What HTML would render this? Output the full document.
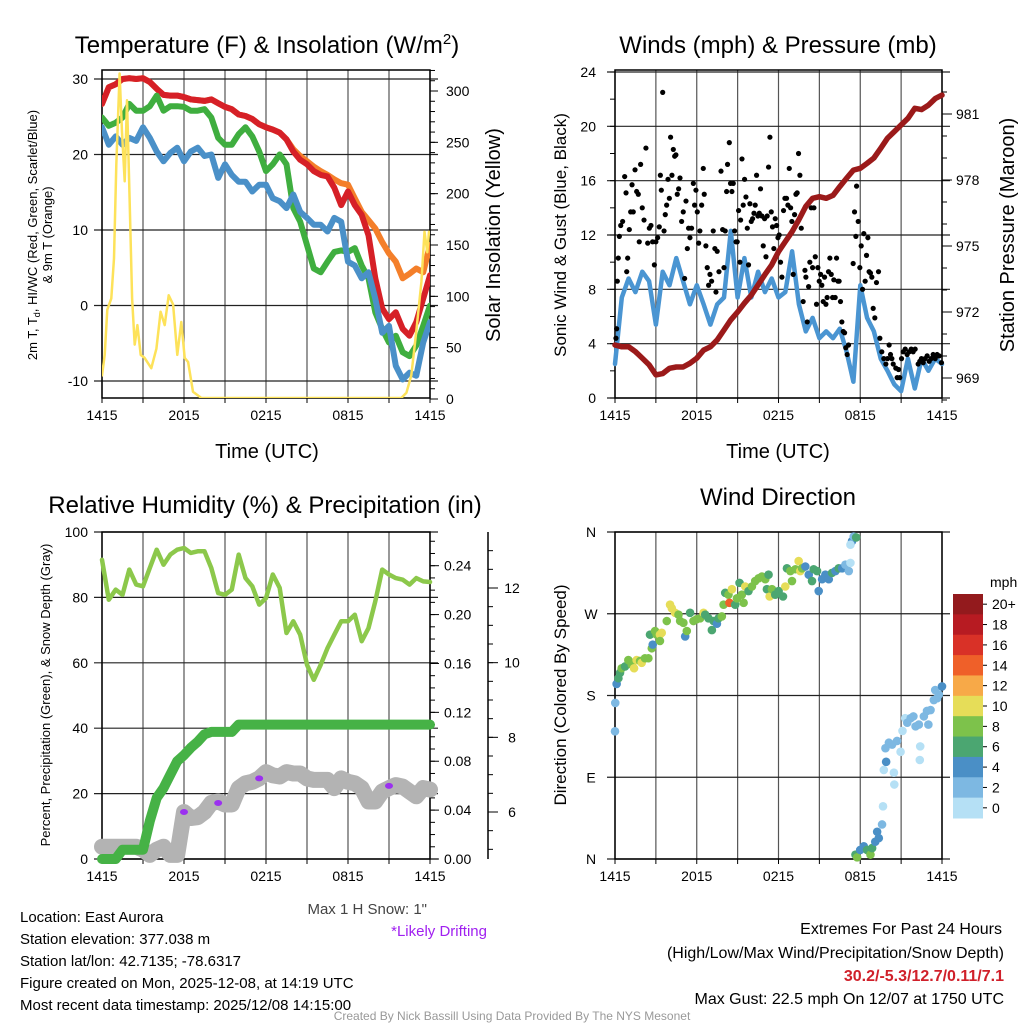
<!DOCTYPE html>
<html><head><meta charset="utf-8"><style>
body{margin:0;background:#fff;}
svg{display:block;font-family:"Liberation Sans",sans-serif;}
</style></head><body>
<svg id="s" width="1024" height="1024" viewBox="0 0 1024 1024">
<rect width="1024" height="1024" fill="#fff"/>
<text x="267" y="53" font-size="24" text-anchor="middle">Temperature (F) &amp; Insolation (W/m<tspan dy="-9" font-size="15">2</tspan><tspan dy="9">)</tspan></text>
<text x="778" y="53" font-size="24" text-anchor="middle">Winds (mph) &amp; Pressure (mb)</text>
<text x="265" y="513" font-size="24" text-anchor="middle">Relative Humidity (%) &amp; Precipitation (in)</text>
<text x="778" y="505" font-size="24" text-anchor="middle">Wind Direction</text>
<text x="267" y="458" font-size="20" text-anchor="middle">Time (UTC)</text>
<text x="778" y="458" font-size="20" text-anchor="middle">Time (UTC)</text>
<text transform="translate(37,235) rotate(-90)" font-size="13" text-anchor="middle">2m T, T<tspan dy="3" font-size="9">d</tspan><tspan dy="-3">, HI/WC (Red, Green, Scarlet/Blue)</tspan></text>
<text transform="translate(52,235) rotate(-90)" font-size="13" text-anchor="middle">&amp; 9m T (Orange)</text>
<text transform="translate(500,235) rotate(-90)" font-size="20" text-anchor="middle">Solar Insolation (Yellow)</text>
<text transform="translate(566,235) rotate(-90)" font-size="17" text-anchor="middle">Sonic Wind &amp; Gust (Blue, Black)</text>
<text transform="translate(1014,235) rotate(-90)" font-size="20" text-anchor="middle">Station Pressure (Maroon)</text>
<text transform="translate(50,695) rotate(-90)" font-size="13" text-anchor="middle">Percent, Precipitation (Green), &amp; Snow Depth (Gray)</text>
<text transform="translate(566,695) rotate(-90)" font-size="17" text-anchor="middle">Direction (Colored By Speed)</text>
<text x="427" y="914" font-size="15" fill="#444" text-anchor="end">Max 1 H Snow: 1"</text>
<text x="487" y="936" font-size="15" fill="#a020f0" text-anchor="end">*Likely Drifting</text>
<g font-size="15">
<text x="20" y="922">Location: East Aurora</text>
<text x="20" y="944">Station elevation: 377.038 m</text>
<text x="20" y="966">Station lat/lon: 42.7135; -78.6317</text>
<text x="20" y="988">Figure created on Mon, 2025-12-08, at 14:19 UTC</text>
<text x="20" y="1010">Most recent data timestamp: 2025/12/08 14:15:00</text>
</g>
<g font-size="16" text-anchor="end">
<text x="1002" y="934">Extremes For Past 24 Hours</text>
<text x="1004" y="958">(High/Low/Max Wind/Precipitation/Snow Depth)</text>
<text x="1004" y="981" fill="#d0202a" font-weight="bold">30.2/-5.3/12.7/0.11/7.1</text>
<text x="1004" y="1004">Max Gust: 22.5 mph On 12/07 at 1750 UTC</text>
</g>
<text x="512" y="1020" font-size="12" fill="#999" text-anchor="middle">Created By Nick Bassill Using Data Provided By The NYS Mesonet</text>
</svg>
<script>
// ---------- DATA ----------
const hours30 = [0,0.5,1,1.5,2,2.5,3,3.5,4,4.5,5,5.5,6,6.5,7,7.5,8,8.5,9,9.5,10,10.5,11,11.5,12,12.5,13,13.5,14,14.5,15,15.5,16,16.5,17,17.5,18,18.5,19,19.5,20,20.5,21,21.5,22,22.5,23,23.5,24];
const xTickLabels = ["1415","2015","0215","0815","1415"];
const tempRed = [26.7,28.9,29.3,30,30.1,30,30.1,29.6,28.7,27.9,27.8,27.8,27.6,27.3,27.2,27.1,27.3,26.8,26.3,26,25.3,25.1,24.7,24,23.6,23.3,22.9,22,20.4,19.3,18.7,17.8,17.3,17.1,15.6,13.3,15.1,13.3,12,9.3,3.6,-0.4,-1.8,-0.9,-3.1,-4,-2.2,0.9,4];
const tempOrange = [26.7,28.9,29.3,30,30.1,30,30.1,29.6,28.7,27.9,27.8,27.8,27.6,27.3,27.2,27.1,27.3,26.8,26.3,26,25.3,25.1,24.7,24,23.6,23.3,22.9,22,20.7,19.8,19.1,18.4,17.8,17.3,16.7,16.2,16,14.2,12.4,11.3,10.2,8.4,6.9,5.8,3.6,4.2,4.9,4.4,8];
const tempGreen = [24.9,23.8,24.2,24.9,26.7,25.8,25.8,26.4,27.8,25.8,26.4,26.4,26.3,25.8,25.8,26,24.9,22.2,21.3,21.3,22.7,23.6,22.4,20.4,17.8,18.7,20,18.7,12.9,11.1,8,4.9,4.4,5.8,7.1,7.3,7.1,7.6,5.3,3.6,-0.9,-3.1,-4.9,-4,-6.2,-6.7,-5.3,-2.7,0];
const tempBlue = [23.6,21.3,22.4,21.3,22.2,21.8,23.6,22.2,20.4,19.1,20.2,20.9,19.1,20.4,20.9,19.8,20,16.9,18.7,17.3,16.4,16.4,15.1,16,16,14.2,13.8,12.9,14.7,12.4,11.6,10.7,10.7,9.8,11.6,11.1,5.8,5.3,3.6,4.4,0.9,-3.6,-2.7,-8,-9.8,-8.9,-9.3,-4.9,-2.2];
const solarHours = [0,0.2,0.39,0.68,0.88,1.05,1.29,1.46,1.66,1.83,2.02,2.2,2.39,2.59,2.83,3.12,3.61,3.98,4.29,4.59,4.88,5.2,5.51,5.8,6.05,6.3,6.66,7.27,21.9,22.27,22.63,23,23.37,23.6,23.8,23.93];
const solarVals = [23,43,87,98,137,228,317,260,212,291,195,98,53,72,43,40,30,49,85,72,101,92,43,75,40,36,7,1,1,6,23,66,114,163,143,163];
const pressure = [970.5,970.42,970.42,970.2,969.9,969.6,969.14,969.2,969.44,969.5,969.5,969.67,969.9,970.27,970.42,970.73,971.18,971.64,972,972.4,972.77,973.23,973.7,974.14,974.74,975.2,975.65,976.2,976.8,977.17,977.24,977.17,977.3,977.7,978.08,978.45,978.53,978.76,979,979.44,979.9,980.2,980.5,980.8,981.26,981.2,981.4,981.7,981.86];
const windSpeed = [2.5,7.4,8.8,7.8,9.3,8.6,5.4,9.3,8.3,10.3,8.6,6.9,8.3,6.9,5.4,6.9,7.4,12.3,7.4,10.3,7.4,9.3,7.8,8.8,7.4,7.8,10.8,6.9,4.9,5.9,4.4,4.9,4.4,5.1,3.4,1.2,8.3,5.9,4.9,2.9,2,1,0.5,2.9,0.7,2.9,2,2.9,2.5];
const gustH = [0.07,0.12,0.17,0.24,0.32,0.42,0.56,0.71,0.81,0.86,0.93,1.05,1.15,1.25,1.34,1.47,1.59,1.71,1.78,1.88,2,2.13,2.27,2.4,2.52,2.64,2.76,2.89,3,3.13,3.25,3.33,3.4,3.5,3.6,3.69,3.79,3.89,3.99,4.08,4.18,4.28,4.38,4.47,4.57,4.67,4.77,4.89,5.01,5.11,5.21,5.31,5.4,5.5,5.62,5.75,5.84,5.94,6.04,6.14,6.23,6.36,6.48,6.55,6.67,6.77,6.87,6.97,7.09,7.21,7.33,7.41,7.5,7.63,7.78,7.9,8,8.09,8.19,8.26,8.39,8.48,8.58,8.68,8.78,8.88,8.97,9.07,9.17,9.22,9.32,9.41,9.51,9.61,9.71,9.8,9.9,10,10.1,10.2,10.29,10.39,10.49,10.59,10.68,10.78,10.88,10.98,11.08,11.17,11.27,11.37,11.47,11.56,11.66,11.76,11.86,11.96,12.05,12.15,12.25,12.37,12.47,12.59,12.69,12.79,12.89,12.98,13.08,13.18,13.28,13.37,13.47,13.57,13.67,13.81,13.94,14.01,14.11,14.21,14.3,14.4,14.5,14.6,14.7,14.79,14.89,14.99,15.09,15.18,15.28,15.38,15.48,15.57,15.67,15.77,15.87,15.97,16.06,16.16,16.26,16.36,16.45,16.55,16.65,16.75,16.85,16.94,17.04,17.14,17.48,17.58,17.68,17.73,17.85,17.97,18.07,18.17,18.26,18.36,18.46,18.56,18.65,18.75,18.85,18.95,19.07,19.19,19.34,19.44,19.58,19.73,19.88,20,20.12,20.22,20.32,20.42,20.61,20.71,20.81,20.9,21.03,21.15,21.3,21.44,21.59,21.74,21.88,22.03,22.25,22.37,22.49,22.62,22.76,22.91,23.06,23.2,23.35,23.5,23.64,23.79,23.96];
const gustV = [4.4,5.1,8.6,10.3,11.9,12.7,13,16.3,15.1,9.3,10.3,12.4,13.7,15.7,13.7,16.8,15.2,15,11.5,17.2,14,13.1,18.4,11.4,12.5,12.7,11.5,9.8,11.5,11.8,12.6,16.4,15.3,22.5,12.3,13.5,14.2,16.1,14.7,19.2,16.4,18.3,17.8,17.9,15,15.4,16.2,13,13.7,8.8,14.5,11,12.5,11.8,12.5,15.8,14.2,15.3,13.7,11.4,12.3,14.2,16.9,15,11.2,9.6,8.3,9.1,8.6,12.3,11,7.8,10.8,9.3,16.7,12.4,9.6,12.3,15.2,17.2,18.8,15.8,15.2,15.8,12.3,11.5,11.5,13.8,10,13.1,17.6,14.2,16.1,14.8,12.5,9.8,14.3,13,13.2,13.6,14.2,16.4,13.4,13.6,15.4,13.4,11.2,13.2,10.4,13.4,17,19.2,13.7,12.6,11,13.2,12.7,11.8,12,10,8.9,13.8,14.7,14.7,14.2,16.9,14,13,9.1,13.5,15,15.1,18,16.4,12.5,7.1,9.4,8.9,5.6,8.2,10,14,9.6,14,10.4,6.9,9.6,8.6,9.1,8.3,7.1,8.9,6.9,7.4,9.3,10.3,9.1,7.4,8.7,7.4,10.3,8.6,8.6,7.1,5.6,4.9,4.8,3.7,3.2,3.9,9.9,13.7,11.9,15.6,13,9.6,11.2,8,12.1,8.6,10.5,11.8,9.3,9.2,8.9,6.6,5.9,8.5,9.3,4.4,3.4,2.9,2.5,2.9,3.9,3.2,2.9,2.5,2.2,1.5,2.1,1.5,2.9,3.4,3.6,3.2,3.4,3.6,3.4,3.6,2.5,2.7,2.9,2.6,2.9,3.1,2.7,2.9,3.2,2.9,3.2,3.1,2.6];
const rh = [91.5,79.3,82.4,80.8,88.5,83.9,83.4,89,94.6,90,93.1,94.6,95.1,93.6,94.1,94.1,89,81.3,80.8,82.4,93.1,85.9,83.4,77.8,79.8,87,82.9,69.1,72.7,68.6,59.4,54.8,59.4,64.5,68.6,72.7,72.7,74.7,66.6,70.6,78.8,88.5,87,85.9,85.4,83.9,85.9,84.9,84.7];
const precip = [0,0,0,0.0076,0.0076,0.0076,0.0076,0.031,0.05,0.058,0.069,0.08,0.085,0.091,0.096,0.102,0.104,0.104,0.104,0.104,0.11,0.11,0.11,0.11,0.11,0.11,0.11,0.11,0.11,0.11,0.11,0.11,0.11,0.11,0.11,0.11,0.11,0.11,0.11,0.11,0.11,0.11,0.11,0.11,0.11,0.11,0.11,0.11,0.11];
const snowDepth = [5.07,5.07,5.07,5.07,5.07,5.07,4.99,4.85,4.99,5.07,4.85,4.85,6.0,5.84,5.86,6.0,6.24,6.28,6.2,6.2,6.64,6.77,6.81,6.9,7.07,6.98,6.95,7.07,7.03,7.03,6.9,6.86,6.86,6.86,6.64,6.9,6.81,6.77,6.64,6.28,6.28,6.55,6.64,6.72,6.68,6.55,6.42,6.64,6.6];
const driftH = [6.0,8.5,11.5,21.0];
const driftV = [6.0,6.24,6.9,6.7];
const dirH = [0,0.02,0.12,0.25,0.37,0.49,0.74,0.98,1.23,1.4,1.59,1.84,1.96,2.2,2.45,2.7,2.77,2.57,2.94,3.06,3.3,3.43,3.3,3.8,4.04,4.17,4.41,4.66,4.78,5.15,5.27,5.02,5.51,5.76,6,6.25,6.5,6.62,6.86,7.11,7.23,7.48,7.6,7.84,7.97,8.09,8.33,8.4,8.58,8.82,8.95,9.14,9.31,9.44,9.56,9.8,10.05,10.29,10.54,10.78,11.03,11.27,11.15,11.35,11.52,11.76,12.01,12.33,12.5,12.62,12.87,12.99,13.24,13.48,13.6,13.73,13.97,14.22,14.46,14.58,14.83,14.95,15.2,15.44,15.69,15.93,16.18,16.42,16.67,16.91,17.16,17.28,17.4,17.28,17.52,17.7,17.65,17.77,18,18.26,18.5,18.75,18.87,19.1,19.24,19.36,19.6,19.67,19.73,19.9,19.85,20.1,20.34,20.47,20.5,20.7,20.96,21.1,21.3,21.45,21.7,21.9,22.06,22.3,22.37,22.4,22.67,22.9,23,23.16,23.4,23.65,23.77,23.5,24];
const dirDeg = [140.6,171.8,192.7,199,205,210,212,219,214,210,219,218,216,221,221,232,236,247,251,247,247,249,240,262,280,276,271,269,262,245,251,260,271,262,264,265,271,269,265,252,262,259,265,267,280,293,291,282,297,280,287,304,291,282,300,295,300,306,309,311,308,313,297,289,297,291,295,289,300,320,317,306,319,328,317,320,322,313,306,319,317,295,308,313,308,315,317,320,320,324,317,326,350,346,355,354,4.8,1.8,10,14,10,4.8,12,19,30,23,38,58,98,107,122,128,126,95,82,130,118,141,155,150,155,157,146,148,109,124,157,163,148,164,175,177,181,186,190];
const dirSpd = [2,2,4,6,6,7,6,8,7,9,10,8,9,7,7,7,4,6,7,8,9,10,7,7,10,9,10,8,7,4,7,8,6,7,7,7,10,6,6,6,6,4,6,7,7,6,8,13,10,6,7,6,7,7,10,6,7,7,7,7,7,6,6,10,7,6,6,6,10,6,7,7,7,10,10,7,4,4,6,6,6,4,4,4,4,6,4,6,4,2,2,0,4,0,2,6,6,7,4,4,6,7,6,4,4,4,2,0,0,4,2,2,2,0,0,2,0,0,0,2,2,2,2,2,0,0,2,2,2,2,2,2,2,2,4];
const speedLabels = ["20+","18","16","14","12","10","8","6","4","2","0"];
const speedColors = ["#931a1d","#b71b22","#d93127","#ef6029","#f7a948","#e6dd58","#7dc24b","#4ba671","#4a8fc6","#7db8e2","#b5e0f5"];

// ---------- HELPERS ----------
const NS="http://www.w3.org/2000/svg";
const svg=document.getElementById('s');
function mk(tag,attrs,parent){const e=document.createElementNS(NS,tag);for(const k in attrs)e.setAttribute(k,attrs[k]);(parent||svg).appendChild(e);return e;}
function lin(d0,d1,r0,r1){return v=>r0+(v-d0)/(d1-d0)*(r1-r0);}
function pathFrom(xs,ys,fx,fy){return xs.map((x,i)=>(i?'L':'M')+fx(x).toFixed(1)+' '+fy(ys[i]).toFixed(1)).join(' ');}

function panel(L,R,T,B,hTicks,name){
  const g=mk('g',{});
  
  
  const fx=lin(0,24,L,R);
  for(let h=0;h<=24;h+=3){mk('line',{x1:fx(h),x2:fx(h),y1:T,y2:B,stroke:'#555','stroke-width':1.2},g);}
  hTicks.forEach(y=>mk('line',{x1:L-8,x2:R+8,y1:y,y2:y,stroke:'#222','stroke-width':1.2},g));
  mk('rect',{x:L,y:T,width:R-L,height:B-T,fill:'none',stroke:'#000','stroke-width':1.5},g);
  for(let h=0;h<=24;h+=3){mk('line',{x1:fx(h),x2:fx(h),y1:B,y2:B+5,stroke:'#000'},g);}
  xTickLabels.forEach((t,i)=>{const tx=mk('text',{x:fx(i*6),y:B+22,'font-size':14,'text-anchor':'middle'},g);tx.textContent=t;
    
    });
  return {g,fx};
}
function yLabels(g,vals,fy,x,anchor,fmt,name){
  vals.forEach(v=>{const t=mk('text',{x:x,y:fy(v)+5,'font-size':14,'text-anchor':anchor},g);t.textContent=fmt(v);
    
    });
}
function ticks(g,vals,fy,x,len){vals.forEach(v=>mk('line',{x1:x,x2:x+len,y1:fy(v),y2:fy(v),stroke:'#000'},g));}
function series(g,xs,ys,fx,fy,color,w,name){
  const p=mk('path',{d:pathFrom(xs,ys,fx,fy),fill:'none',stroke:color,'stroke-width':w,'stroke-linejoin':'round','stroke-linecap':'round'},g);
  
  
  return p;
}

// ---------- PANEL 1: Temperature ----------
(function(){
  const L=102,R=430,T=70,B=398;
  const fyT=lin(-10,30,381,79), fyS=lin(0,300,399,91);
  const {g,fx}=panel(L,R,T,B,[30,20,10,0,-10].map(fyT),'temperature-chart');
  const cl=mk('g',{'clip-path':'url(#c1)'},g);
  const cp=mk('clipPath',{id:'c1'});mk('rect',{x:L,y:T,width:R-L,height:B-T},cp);
  series(cl,hours30,tempOrange,fx,fyT,'#f47f2a',6,'temp-9m-orange-line');
  series(cl,hours30,tempRed,fx,fyT,'#d62027',6,'heat-index-red-line');
  series(cl,hours30,tempGreen,fx,fyT,'#3fae3f',6,'temperature-green-line');
  series(cl,hours30,tempBlue,fx,fyT,'#4a90c8',6,'dewpoint-blue-line');
  series(cl,solarHours,solarVals,fx,fyS,'#fde25a',2.5,'insolation-yellow-line');
  yLabels(g,[30,20,10,0,-10],fyT,L-14,'end',v=>v,'temp-y-tick');
  const st=[];for(let v=0;v<=320;v+=10)st.push(v);
  ticks(g,st,fyS,R,5);
  ticks(g,[0,50,100,150,200,250,300],fyS,R,8);
  yLabels(g,[0,50,100,150,200,250,300],fyS,R+16,'start',v=>v,'insolation-y-tick');
})();

// ---------- PANEL 2: Winds ----------
(function(){
  const L=615,R=942,T=70,B=398;
  const fyW=lin(0,24,398,72), fyP=lin(969,981,378,114);
  const {g,fx}=panel(L,R,T,B,[0,4,8,12,16,20,24].map(fyW),'winds-chart');
  yLabels(g,[0,4,8,12,16,20,24],fyW,L-19,'end',v=>v,'wind-y-tick');
  const mt=[];for(let v=0;v<=24;v+=2)mt.push(v);ticks(g,mt,fyW,L-5,5);
  const pt=[];for(let v=968;v<=982;v++)pt.push(v);ticks(g,pt,fyP,R,5);
  ticks(g,[969,972,975,978,981],fyP,R,10);
  yLabels(g,[969,972,975,978,981],fyP,R+14,'start',v=>v,'pressure-y-tick');
  series(g,hours30,windSpeed,fx,fyW,'#4a95d2',4.5,'sonic-wind-blue-line');
  gustH.forEach((h,i)=>{const c=mk('circle',{cx:fx(h),cy:fyW(gustV[i]),r:2.6,fill:'#000'},g);
    
    });
  series(g,hours30,pressure,fx,fyP,'#9b1a1a',5.5,'pressure-maroon-line');
})();

// ---------- PANEL 3: Humidity ----------
(function(){
  const L=102,R=430,T=532,B=859;
  const fyR=lin(0,100,859,532), fyPr=lin(0,0.24,859,565.7), fyS=lin(6,12,812,588);
  const {g,fx}=panel(L,R,T,B,[0,20,40,60,80,100].map(fyR),'humidity-chart');
  yLabels(g,[0,20,40,60,80,100],fyR,L-14,'end',v=>v,'humidity-y-tick');
  const pt=[];for(let v=0;v<=0.265;v+=0.01)pt.push(v);ticks(g,pt,fyPr,R,5);
  ticks(g,[0,0.04,0.08,0.12,0.16,0.2,0.24],fyPr,R,9);
  yLabels(g,[0,0.04,0.08,0.12,0.16,0.2,0.24],fyPr,R+14,'start',v=>v.toFixed(2),'precip-y-tick');
  const ax=mk('line',{x1:488,x2:488,y1:532,y2:859,stroke:'#000','stroke-width':1.5},g);
  
  
  const sn=[];for(let v=5;v<=13;v+=0.5)sn.push(v);ticks(g,sn,fyS,488,5);
  ticks(g,[6,8,10,12],fyS,488,10);
  yLabels(g,[6,8,10,12],fyS,512,'middle',v=>v,'snow-y-tick');
  const cl=mk('g',{'clip-path':'url(#c3)'},g);
  const cp=mk('clipPath',{id:'c3'});mk('rect',{x:L-10,y:T,width:R-L+20,height:B-T+10},cp);
  series(cl,hours30,snowDepth,fx,fyS,'#b3b3b3',16,'snow-depth-gray-line');
  series(cl,hours30,precip,fx,fyPr,'#46b246',10,'precip-green-line');
  series(cl,hours30,rh,fx,fyR,'#8cc84b',4.5,'humidity-line');
  driftH.forEach((h,i)=>{const e=mk('ellipse',{cx:fx(h),cy:fyS(driftV[i]),rx:4,ry:3,fill:'#9b30f0'},g);
    
    });
})();

// ---------- PANEL 4: Wind direction ----------
(function(){
  const L=615,R=942,T=532,B=859;
  const fyD=lin(0,360,859,532);
  const {g,fx}=panel(L,R,T,B,[0,90,180,270,360].map(fyD),'wind-direction-chart');
  ['N','E','S','W','N'].forEach((t,i)=>{const tx=mk('text',{x:L-24,y:fyD(i*90)+5,'font-size':14,'text-anchor':'middle'},g);tx.textContent=t;
    
    });
  dirH.forEach((h,i)=>{const k=Math.max(0,Math.min(10,10-Math.round(dirSpd[i]/2)));
    const c=mk('circle',{cx:fx(h),cy:fyD(dirDeg[i]),r:4.3,fill:speedColors[k]},g);
    
    });
  const lg=mk('g',{});
  
  
  const t0=mk('text',{x:990,y:587,'font-size':14},lg);t0.textContent='mph';
  
  
  const h=224/11;
  speedColors.forEach((c,i)=>{mk('rect',{x:953,y:594+i*h,width:30,height:h+0.5,fill:c},lg);
    mk('line',{x1:983,x2:987,y1:594+i*h+h/2,y2:594+i*h+h/2,stroke:'#000'},lg);
    const t=mk('text',{x:992,y:594+i*h+h/2+5,'font-size':14},lg);t.textContent=speedLabels[i];
    
    });
})();
</script>
</body></html>
